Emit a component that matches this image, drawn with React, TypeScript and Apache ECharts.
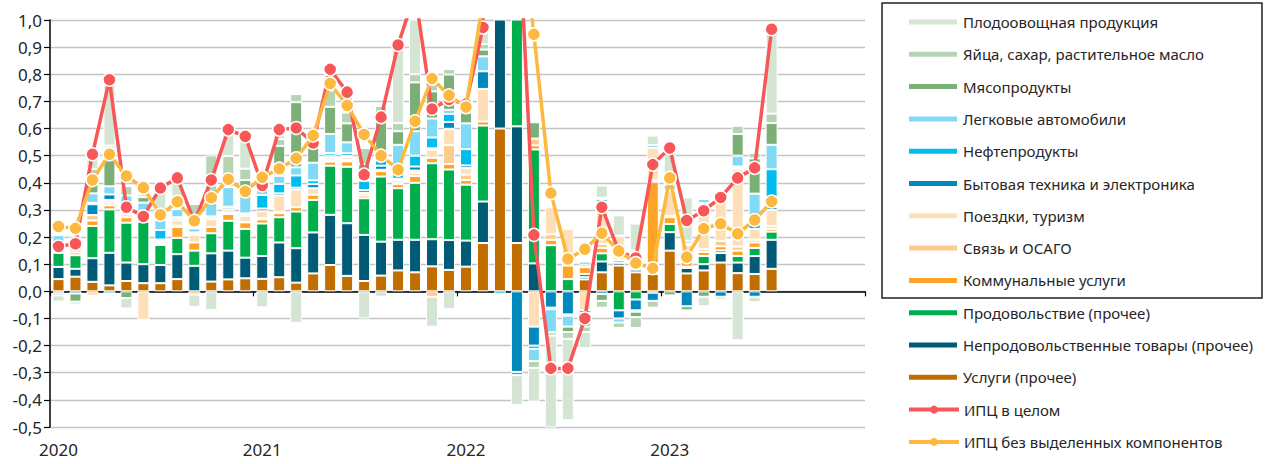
import React, { useEffect, useRef } from "react";
import * as echarts from "echarts";

const months = [
  "2020-01","2020-02","2020-03","2020-04","2020-05","2020-06","2020-07","2020-08","2020-09","2020-10","2020-11","2020-12",
  "2021-01","2021-02","2021-03","2021-04","2021-05","2021-06","2021-07","2021-08","2021-09","2021-10","2021-11","2021-12",
  "2022-01","2022-02","2022-03","2022-04","2022-05","2022-06","2022-07","2022-08","2022-09","2022-10","2022-11","2022-12",
  "2023-01","2023-02","2023-03","2023-04","2023-05","2023-06","2023-07","2023-08","2023-09","2023-10","2023-11","2023-12",
];

// Услуги (прочее)
const servicesOther = [0.045,0.054,0.035,0.022,0.038,0.03,0.03,0.045,0,0.036,0.044,0.048,0.046,0.052,0.032,0.066,0.097,0.057,0.038,0.058,0.077,0.07,0.092,0.079,0.091,0.178,0.6,0.178,0,0,0,0.044,0.07,0.095,0.07,0.064,0.15,0.066,0.077,0.106,0.067,0.064,0.083];
// Непродовольственные товары (прочее)
const nonFoodOther = [0.045,0.029,0.087,0.12,0.068,0.07,0.067,0.092,0.094,0.104,0.106,0.076,0.084,0.128,0.127,0.151,0.185,0.194,0.17,0.125,0.113,0.12,0.1,0.11,0.096,0.153,1.6,0.43,0.103,0,0,0.008,0.04,0.01,0.01,0.04,0.068,0.02,0.023,0.035,0.039,0.066,0.107];
// Продовольствие (прочее)
const foodOther = [0.052,0.05,0.119,0.16,0.147,0.157,0.074,0.06,0.056,0.074,0.11,0.106,0.12,0.093,0.135,0.12,0.181,0.208,0.135,0.24,0.19,0.21,0.28,0.26,0.206,0.28,2.5,0.8,0.42,0.17,0.045,0.012,0.03,-0.07,-0.03,-0.005,0.03,0.005,0.03,0.01,0.024,0.03,0.03];
// Коммунальные услуги
const utilities = [0.005,0.01,0.02,0.015,0.02,0.018,0.005,0.04,0.03,0.023,0.025,0.024,0.015,0.015,0.016,0.019,0.015,0.02,0.01,0.02,0.015,0.025,0.02,0.02,0.017,0.015,0.3,0.1,0.015,0.02,0.05,0.025,0.02,0.01,0.005,0.3,0.025,0.02,0.015,0.015,0.02,0.02,0.01];
// Связь и ОСАГО
const telecom = [0.01,0.012,0.02,0.01,0.01,0.012,0.005,0.005,-0.012,0,0.005,0.002,0.005,0.005,0,0,0.005,0.005,0,0.005,0.005,0.01,-0.02,0.07,0.02,0,0.2,0.05,0.025,0.02,0,0.01,0.015,0.01,0.01,0.005,0.005,0.01,0.01,0.02,0.015,0.01,0.01];
// Поездки, туризм
const travel = [0.01,0.02,-0.017,0.01,0.01,-0.105,0.005,0.02,0.028,0.029,0.012,0.022,0.025,0.06,0.065,0.024,0.01,0.01,0.01,0,0.01,0.01,0.03,0.06,0.024,0.12,0.6,0.2,-0.13,0.1,0.135,-0.07,0.155,0.08,0.045,0.12,0.09,0.05,0.165,0.15,0.285,0.04,0.06];
// Бытовая техника и электроника
const appliances = [0.005,-0.008,0.04,0.02,0.01,0.005,0.005,0.006,0.006,0.008,0.007,0.007,0.01,0.008,0.007,0.015,0.007,0.005,0.01,0.015,0.005,0.015,0.005,0.025,0.01,0.065,0.8,-0.297,-0.07,-0.06,-0.085,-0.01,-0.01,-0.03,-0.04,-0.03,0.005,-0.055,0,-0.02,0.005,-0.02,0.01];
// Нефтепродукты
const fuel = [0.005,0.01,0.005,-0.008,0.01,0.005,0.035,0.005,0.003,0.002,0.003,0.002,0.05,0.035,0.045,0.014,0.01,0.01,0.035,0.03,0.04,0.04,0.04,0.03,0.06,0,-0.01,-0.012,-0.012,-0.006,-0.005,0.01,0.01,0,-0.005,0,0,0.005,0.005,0.005,0.005,0.02,0.14];
// Легковые автомобили
const cars = [0.03,0.02,0.035,0.03,0.04,0.03,0.037,0.03,0.015,0.05,0.072,0.083,0.03,0.03,0.03,0.065,0.07,0.04,0.01,0.02,0.085,0.09,0.07,0.015,0.095,0.055,0.5,0.1,-0.045,-0.085,-0.04,-0.03,0.005,-0.015,0.01,0.01,0.02,0.01,0.015,0.015,0.04,0.11,0.09];
// Мясопродукты
const meat = [-0.005,-0.03,0.06,0.14,-0.025,0.02,0.01,0.01,0.005,0.03,0,0.04,0.05,0.11,0.24,0.06,0.1,0.07,0.05,0.13,0.05,0.18,0.1,0.13,0.04,0.025,0.2,0.1,0.06,0,-0.02,-0.02,-0.025,0,-0.02,0,-0.015,-0.015,-0.02,0,0.08,0.13,0.08];
// Яйца, сахар, растительное масло
const eggsSugarOil = [-0.01,-0.01,0.03,0.01,0.035,0.01,0.01,0.02,0.085,0.145,0.115,0.042,0.01,0.025,0.03,0.01,0.06,0.04,0.06,0.04,0.03,0.03,0.04,0.02,0.01,0.02,0.2,0.05,-0.025,-0.012,-0.025,-0.02,-0.025,-0.02,-0.04,-0.025,0.02,0,0,-0.01,0.03,0.02,0.035];
// Плодоовощная продукция
const fruitVeg = [-0.023,0,0.07,0.24,-0.038,0.025,0.1,0.085,-0.045,-0.069,0.1,0.115,-0.059,0.03,-0.116,0.01,0.07,0.07,-0.1,-0.02,0.28,0.3,-0.11,-0.066,0.02,0.06,0.3,-0.11,-0.125,-0.34,-0.3,-0.06,0.045,0.075,0.1,0.035,0.14,0.16,-0.035,0.015,-0.18,-0.02,0.3];

// ИПЦ в целом
const cpiTotal = [0.165,0.175,0.505,0.78,0.31,0.276,0.381,0.418,0.257,0.41,0.596,0.571,0.39,0.596,0.602,0.547,0.818,0.734,0.43,0.642,0.908,1.1,0.672,0.707,0.69,0.972,7.6,1.5,0.208,-0.284,-0.284,-0.1,0.31,0.147,0.123,0.467,0.528,0.261,0.297,0.346,0.418,0.455,0.966];
// ИПЦ без выделенных компонентов
const cpiCore = [0.239,0.232,0.41,0.505,0.425,0.382,0.282,0.33,0.26,0.345,0.413,0.368,0.42,0.452,0.49,0.574,0.766,0.685,0.578,0.5,0.448,0.627,0.784,0.722,0.679,1.07,6.0,1.5,0.947,0.362,0.119,0.155,0.214,0.149,0.104,0.085,0.418,0.126,0.231,0.249,0.212,0.263,0.331];

const barSeries = [
  { name: "Услуги (прочее)", data: servicesOther, color: "#C06E00" },
  { name: "Непродовольственные товары (прочее)", data: nonFoodOther, color: "#005B77" },
  { name: "Продовольствие (прочее)", data: foodOther, color: "#00AE4E" },
  { name: "Коммунальные услуги", data: utilities, color: "#FDA428" },
  { name: "Связь и ОСАГО", data: telecom, color: "#FDCB8B" },
  { name: "Поездки, туризм", data: travel, color: "#FEDFB8" },
  { name: "Бытовая техника и электроника", data: appliances, color: "#0089BD" },
  { name: "Нефтепродукты", data: fuel, color: "#00BCEF" },
  { name: "Легковые автомобили", data: cars, color: "#80DAF5" },
  { name: "Мясопродукты", data: meat, color: "#7BAF78" },
  { name: "Яйца, сахар, растительное масло", data: eggsSugarOil, color: "#B6D4B4" },
  { name: "Плодоовощная продукция", data: fruitVeg, color: "#D4E5D3" },
];

const TOTAL_NAME = "ИПЦ в целом";
const CORE_NAME = "ИПЦ без выделенных компонентов";
const FONT = "'Noto Sans', 'DejaVu Sans', sans-serif";
const LEGEND_FONT = "'Noto Sans', 'DejaVu Sans', sans-serif";

export default function App() {
  const ref = useRef<HTMLDivElement>(null);
  useEffect(() => {
    if (!ref.current) return;
    const chart = echarts.init(ref.current, undefined, { renderer: "svg" });
    const series: any[] = barSeries.map((s) => ({
      name: s.name,
      type: "bar",
      stack: "total",
      barWidth: 12,
      data: s.data.map((v) => (v === 0 ? "-" : v)),
      itemStyle: { color: s.color, borderColor: "#ffffff", borderWidth: 1 },
      emphasis: { disabled: true },
    }));
    series.push({
      name: TOTAL_NAME,
      type: "line",
      data: cpiTotal,
      symbol: "circle",
      symbolSize: 13,
      showSymbol: true,
      showAllSymbol: true,
      lineStyle: { color: "#F95757", width: 3.5 },
      itemStyle: { color: "#F95757", borderColor: "#ffffff", borderWidth: 1.5 },
      emphasis: { disabled: true },
      z: 4,
    });
    series.push({
      name: CORE_NAME,
      type: "line",
      data: cpiCore,
      symbol: "circle",
      symbolSize: 13,
      showSymbol: true,
      showAllSymbol: true,
      lineStyle: { color: "#FDB93F", width: 3.5 },
      itemStyle: { color: "#FDB93F", borderColor: "#ffffff", borderWidth: 1.5 },
      emphasis: { disabled: true },
      z: 5,
    });
    const barLegendData: any[] = [...barSeries]
      .reverse()
      .map((s) => ({ name: s.name, icon: "rect" }));
    const legendText = { fontFamily: LEGEND_FONT, fontSize: 15, color: "#262626", lineHeight: 20 };

    chart.setOption({
      animation: false,
      grid: { left: 50, right: 405, top: 20, bottom: 37, containLabel: false },
      legend: [
        {
          orient: "vertical",
          left: 902,
          top: 7,
          itemWidth: 50,
          itemHeight: 7,
          itemGap: 12.3,
          selectedMode: false,
          data: barLegendData,
          textStyle: legendText,
        },
        {
          orient: "vertical",
          left: 902,
          top: 394.6,
          itemWidth: 50,
          itemHeight: 10,
          itemGap: 12.3,
          selectedMode: false,
          data: [TOTAL_NAME, CORE_NAME],
          lineStyle: { width: 4 },
          itemStyle: { borderWidth: 0 },
          textStyle: legendText,
        },
      ],
      graphic: [
        {
          type: "rect",
          x: 882,
          y: 3,
          shape: { width: 380, height: 295 },
          style: { fill: "none", stroke: "#222222", lineWidth: 1.5 },
          z: 100,
        },
      ],
      xAxis: [
        {
          type: "category",
          data: months,
          boundaryGap: true,
          axisLine: { onZero: true, lineStyle: { color: "#000000", width: 1.5 } },
          axisTick: { show: true, interval: 11, length: 5, lineStyle: { color: "#000000", width: 1.2 } },
          axisLabel: { show: false },
          splitLine: { show: false },
        },
        {
          type: "category",
          data: months,
          position: "bottom",
          boundaryGap: true,
          axisLine: { show: false, onZero: false },
          axisTick: { show: false },
          splitLine: { show: false },
          axisLabel: {
            interval: 11,
            margin: 14,
            fontSize: 17,
            fontFamily: FONT,
            color: "#262626",
            formatter: (v: string) => v.slice(0, 4),
          },
        },
      ],
      yAxis: {
        type: "value",
        min: -0.5,
        max: 1.0,
        interval: 0.1,
        axisLine: { show: true, lineStyle: { color: "#000000", width: 1.5 } },
        axisTick: { show: true, length: 6, lineStyle: { color: "#000000", width: 1.2 } },
        splitLine: { lineStyle: { color: "#C4C4C4", width: 1.3 } },
        axisLabel: {
          fontSize: 17,
          fontFamily: FONT,
          color: "#262626",
          margin: 8,
          formatter: (v: number) => (Math.abs(v) < 1e-9 ? "0,0" : v.toFixed(1).replace(".", ",")),
        },
      },
      series,
    });
    return () => chart.dispose();
  }, []);
  return (
    <div
      ref={ref}
      style={{ position: "fixed", left: 0, top: 0, width: 1270, height: 464, background: "#ffffff" }}
    />
  );
}
